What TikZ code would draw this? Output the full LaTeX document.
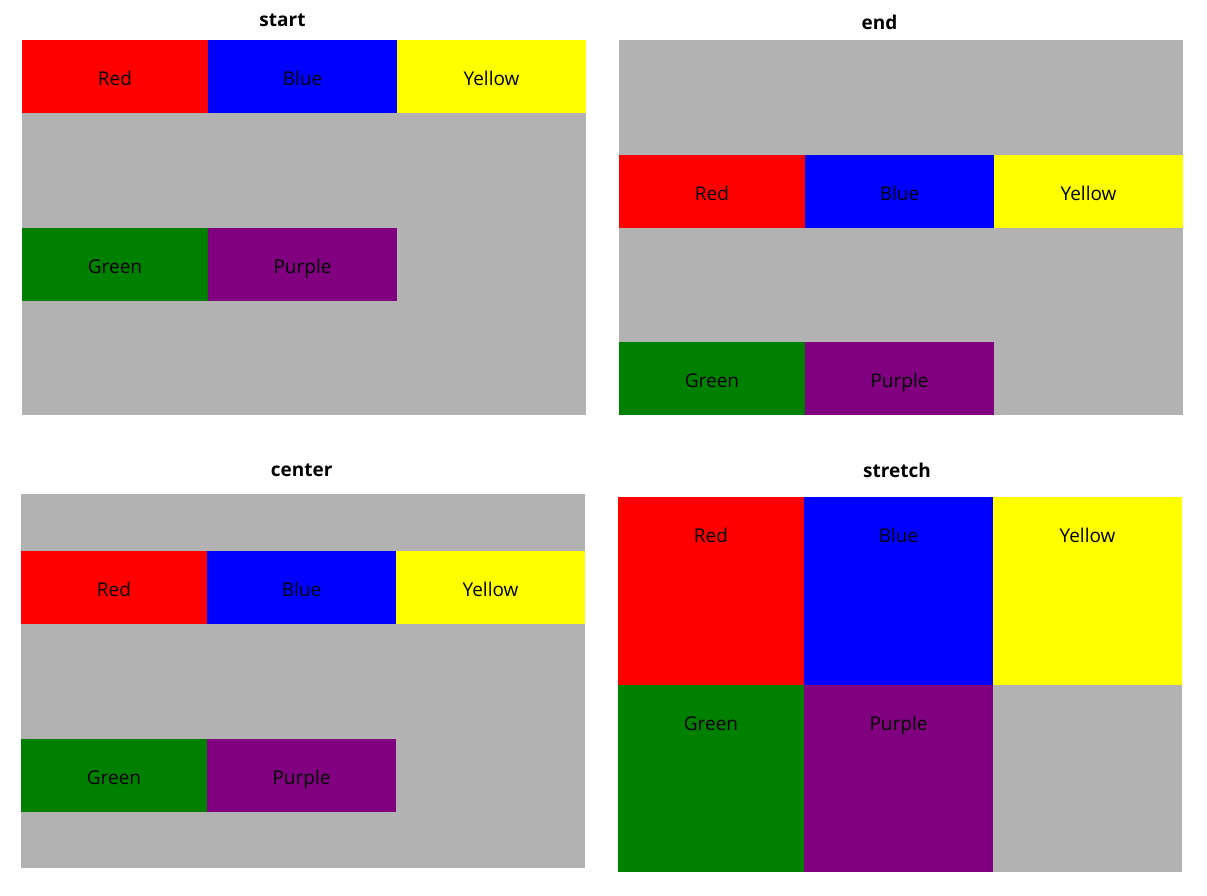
\documentclass[tikz,border=0pt]{standalone}
\usepackage{fontspec}
\setmainfont{Open Sans}
\definecolor{cRed}{HTML}{FF0000}
\definecolor{cBlue}{HTML}{0000FF}
\definecolor{cYellow}{HTML}{FFFF00}
\definecolor{cGreen}{HTML}{008000}
\definecolor{cPurple}{HTML}{800080}
\definecolor{cGray}{HTML}{B2B2B2}
\newcommand\mycell[7]{%
  \fill[#2] (#3,#5) rectangle (#4,#6);
  \node[celltext] (#1) at ({(#3+#4)/2},{#5+45}) {#7};
}
\begin{document}
\begin{tikzpicture}[x=1pt,y=-1pt,
  celltext/.style={anchor=base,inner sep=0pt,font=\fontsize{19}{23}\selectfont,text=black},
  paneltitle/.style={anchor=base,inner sep=0pt,font=\fontsize{19}{23}\selectfont\bfseries,text=black},
  panelbg/.style={fill=cGray}]
\useasboundingbox[fill=white] (0,0) rectangle (1207,895);

% ---- start ----
\node[paneltitle] (t-start) at (282.5,26) {start};
\fill[panelbg] (22,40) rectangle (586,415);
\mycell{s-red}{cRed}{22}{208}{40}{113}{Red}
\mycell{s-blue}{cBlue}{208}{397}{40}{113}{Blue}
\mycell{s-yellow}{cYellow}{397}{586}{40}{113}{Yellow}
\mycell{s-green}{cGreen}{22}{208}{228}{301}{Green}
\mycell{s-purple}{cPurple}{208}{397}{228}{301}{Purple}

% ---- end ----
\node[paneltitle] (t-end) at (879.5,29) {end};
\fill[panelbg] (619,40) rectangle (1183,415);
\mycell{e-red}{cRed}{619}{805}{155}{228}{Red}
\mycell{e-blue}{cBlue}{805}{994}{155}{228}{Blue}
\mycell{e-yellow}{cYellow}{994}{1183}{155}{228}{Yellow}
\mycell{e-green}{cGreen}{619}{805}{342}{415}{Green}
\mycell{e-purple}{cPurple}{805}{994}{342}{415}{Purple}

% ---- center ----
\node[paneltitle] (t-center) at (301.7,476.7) {center};
\fill[panelbg] (21,494) rectangle (585,868);
\mycell{c-red}{cRed}{21}{207}{551}{624}{Red}
\mycell{c-blue}{cBlue}{207}{396}{551}{624}{Blue}
\mycell{c-yellow}{cYellow}{396}{585}{551}{624}{Yellow}
\mycell{c-green}{cGreen}{21}{207}{739}{812}{Green}
\mycell{c-purple}{cPurple}{207}{396}{739}{812}{Purple}

% ---- stretch ----
\node[paneltitle] (t-stretch) at (897,477) {stretch};
\fill[panelbg] (618,497) rectangle (1182,872);
\mycell{r-red}{cRed}{618}{804}{497}{685}{Red}
\mycell{r-blue}{cBlue}{804}{993}{497}{685}{Blue}
\mycell{r-yellow}{cYellow}{993}{1182}{497}{685}{Yellow}
\mycell{r-green}{cGreen}{618}{804}{685}{872}{Green}
\mycell{r-purple}{cPurple}{804}{993}{685}{872}{Purple}
\end{tikzpicture}
\end{document}
